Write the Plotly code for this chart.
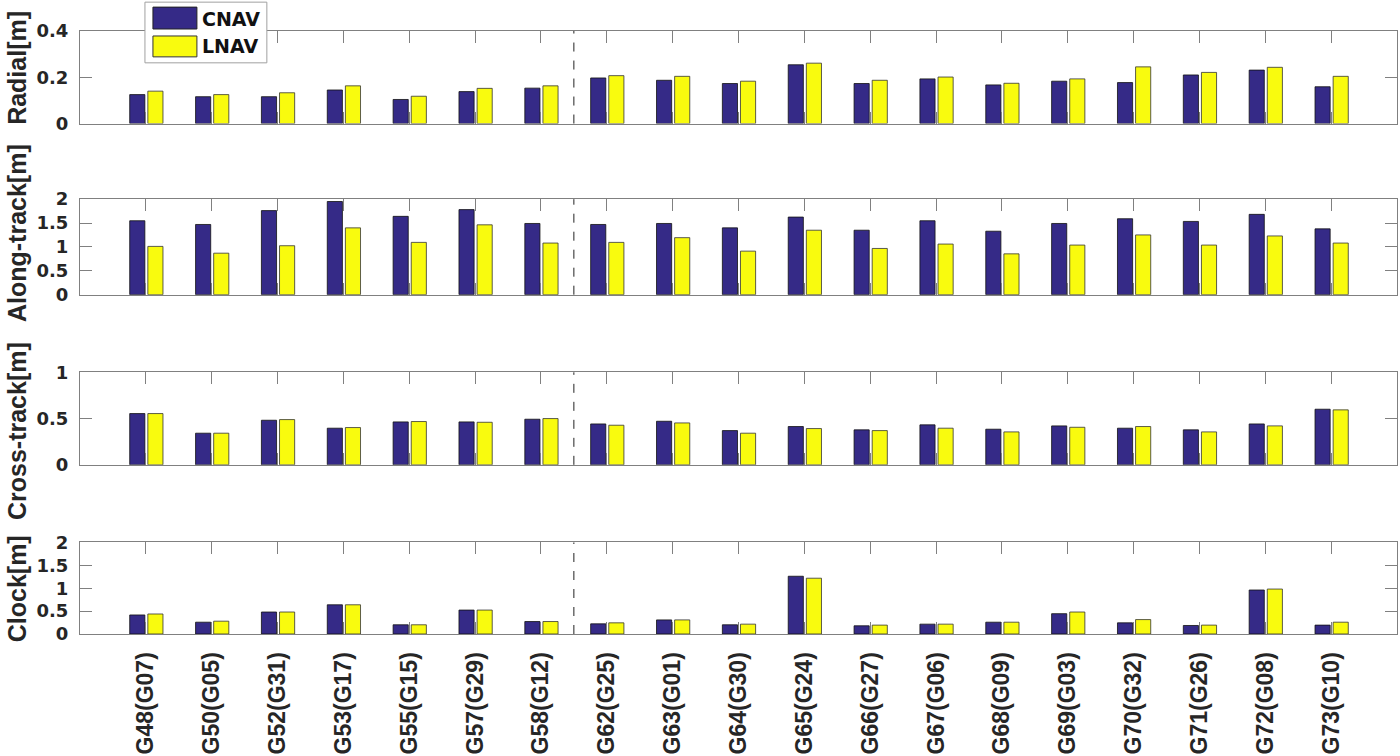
import plotly.graph_objects as go
from plotly.subplots import make_subplots

categories = ["G48(G07)", "G50(G05)", "G52(G31)", "G53(G17)", "G55(G15)", "G57(G29)", "G58(G12)",
              "G62(G25)", "G63(G01)", "G64(G30)", "G65(G24)", "G66(G27)", "G67(G06)", "G68(G09)",
              "G69(G03)", "G70(G32)", "G71(G26)", "G72(G08)", "G73(G10)"]

radial_cnav = [0.125, 0.116, 0.116, 0.145, 0.104, 0.138, 0.153, 0.197, 0.187, 0.173,
               0.254, 0.173, 0.193, 0.167, 0.183, 0.177, 0.210, 0.231, 0.159]
radial_lnav = [0.140, 0.125, 0.133, 0.163, 0.118, 0.152, 0.163, 0.207, 0.204, 0.183,
               0.261, 0.187, 0.201, 0.174, 0.193, 0.245, 0.221, 0.243, 0.204]

along_cnav = [1.548, 1.470, 1.760, 1.951, 1.640, 1.781, 1.491, 1.470, 1.491, 1.399,
              1.625, 1.350, 1.548, 1.329, 1.491, 1.590, 1.534, 1.682, 1.378]
along_lnav = [1.011, 0.869, 1.025, 1.399, 1.095, 1.463, 1.081, 1.095, 1.194, 0.912,
              1.350, 0.968, 1.060, 0.855, 1.039, 1.251, 1.039, 1.230, 1.081]

cross_cnav = [0.554, 0.342, 0.482, 0.396, 0.464, 0.464, 0.493, 0.442, 0.471, 0.370,
              0.414, 0.378, 0.432, 0.385, 0.421, 0.396, 0.378, 0.442, 0.601]
cross_lnav = [0.554, 0.342, 0.489, 0.403, 0.468, 0.460, 0.500, 0.428, 0.453, 0.342,
              0.392, 0.370, 0.396, 0.356, 0.406, 0.414, 0.356, 0.421, 0.594]

clock_cnav = [0.416, 0.258, 0.480, 0.638, 0.201, 0.523, 0.272, 0.222, 0.308, 0.201,
              1.262, 0.179, 0.215, 0.258, 0.444, 0.244, 0.186, 0.961, 0.194]
clock_lnav = [0.437, 0.280, 0.480, 0.638, 0.201, 0.523, 0.272, 0.244, 0.308, 0.215,
              1.219, 0.194, 0.215, 0.258, 0.480, 0.315, 0.194, 0.982, 0.258]

panel_titles = ["Radial[m]", "Along-track[m]", "Cross-track[m]", "Clock[m]"]
panel_ranges = [[0, 0.4], [0, 2], [0, 1], [0, 2]]
panel_dticks = [0.2, 0.5, 0.5, 0.5]
series_names = ["CNAV", "LNAV"]
split_after = 7  # dashed separator between 7th and 8th satellite

panels = [(radial_cnav, radial_lnav), (along_cnav, along_lnav),
          (cross_cnav, cross_lnav), (clock_cnav, clock_lnav)]

BLUE = "#352a87"
YELLOW = "#f9fb0e"
AXIS_COL = "#808080"
TXT = "#262626"
TICK_FONT = "DejaVu Sans"
LABEL_FONT = "Liberation Sans"

W, H = 1400, 756
ML, MR, MT, MB = 80, 2, 31, H - 637
PW = W - ML - MR
PH = H - MT - MB


def py(s):
    return (H - MB - s) / PH


def px(s):
    return (s - ML) / PW


# panel pixel extents (top, bottom) and y-label centres
panel_px = [(31, 124), (200, 296), (374, 467), (545, 637)]
title_cy = [68, 234, 433, 592]

fig = make_subplots(rows=4, cols=1, shared_xaxes=False, vertical_spacing=0.02)

xs = list(range(1, len(categories) + 1))
for i, (cn, ln) in enumerate(panels):
    r = i + 1
    fig.add_trace(go.Bar(x=xs, y=cn, name=series_names[0], marker_color=BLUE,
                         marker_line=dict(color="#111111", width=0.8),
                         width=0.23, offset=-0.245, showlegend=False), row=r, col=1)
    fig.add_trace(go.Bar(x=xs, y=ln, name=series_names[1], marker_color=YELLOW,
                         marker_line=dict(color="#333333", width=0.8),
                         width=0.23, offset=0.03, showlegend=False), row=r, col=1)

for i in range(4):
    r = i + 1
    top, bot = panel_px[i]
    yname = "yaxis" if r == 1 else f"yaxis{r}"
    xname = "xaxis" if r == 1 else f"xaxis{r}"
    fig.layout[yname].update(
        domain=[py(bot), py(top)], range=panel_ranges[i], dtick=panel_dticks[i], tick0=0,
        showgrid=False, zeroline=False, showline=True, linecolor=AXIS_COL, linewidth=1,
        mirror="ticks", ticks="inside", ticklen=12, tickcolor=AXIS_COL,
        tickfont=dict(family=TICK_FONT, size=18, color=TXT, weight="bold"),
        ticklabelstandoff=7,
    )
    fig.layout[xname].update(
        domain=[0, 1], range=[0, len(categories) + 1],
        tickvals=xs, ticktext=categories,
        showticklabels=(r == 4), tickangle=-90,
        showgrid=False, zeroline=False, showline=True, linecolor=AXIS_COL, linewidth=1,
        mirror="ticks", ticks="inside", ticklen=12, tickcolor=AXIS_COL,
        tickfont=dict(family=LABEL_FONT, size=23, color=TXT, weight="bold"),
        ticklabelstandoff=8,
    )
    xref = "x" if r == 1 else f"x{r}"
    yref = "y domain" if r == 1 else f"y{r} domain"
    fig.add_shape(type="line", xref=xref, yref=yref, x0=split_after + 0.5, x1=split_after + 0.5,
                  y0=0, y1=1, line=dict(color="#222222", width=1, dash="dash"))
    fig.add_annotation(text=panel_titles[i], xref="paper", yref="paper",
                       x=px(17), y=py(title_cy[i]), xanchor="center", yanchor="middle",
                       textangle=-90, showarrow=False, borderpad=0,
                       font=dict(family=LABEL_FONT, size=25, color=TXT, weight="bold"))

# legend box (manual)
fig.add_shape(type="rect", xref="paper", yref="paper", x0=px(145), x1=px(267), y0=py(63), y1=py(2),
              fillcolor="white", line=dict(color="#a0a0a0", width=1), layer="above")
fig.add_shape(type="rect", xref="paper", yref="paper", x0=px(153), x1=px(197), y0=py(29), y1=py(7),
              fillcolor=BLUE, line=dict(color="#222222", width=1), layer="above")
fig.add_shape(type="rect", xref="paper", yref="paper", x0=px(153), x1=px(197), y0=py(57), y1=py(36),
              fillcolor=YELLOW, line=dict(color="#333333", width=1), layer="above")
fig.add_annotation(text=series_names[0], xref="paper", yref="paper", x=px(200), y=py(18.5),
                   xanchor="left", yanchor="middle", showarrow=False,
                   font=dict(family=TICK_FONT, size=19, color="#111111", weight="bold"))
fig.add_annotation(text=series_names[1], xref="paper", yref="paper", x=px(200), y=py(46.5),
                   xanchor="left", yanchor="middle", showarrow=False,
                   font=dict(family=TICK_FONT, size=19, color="#111111", weight="bold"))

fig.update_layout(width=W, height=H, margin=dict(l=ML, r=MR, t=MT, b=MB),
                  paper_bgcolor="white", plot_bgcolor="white", barmode="overlay",
                  showlegend=False)

fig.write_html("out.html", config={"displayModeBar": False},
               post_script="document.body.style.margin='0';")
